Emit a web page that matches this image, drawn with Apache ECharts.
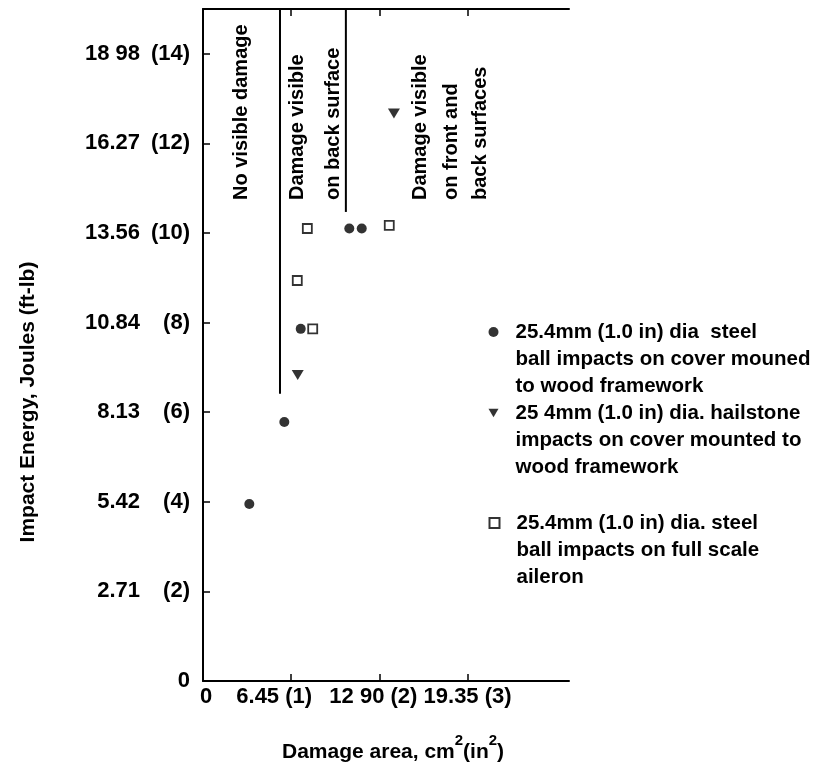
<!DOCTYPE html>
<html>
<head>
<meta charset="utf-8">
<script src="https://cdn.jsdelivr.net/npm/echarts@6/dist/echarts.min.js"></script>
<style>html,body{margin:0;padding:0;background:#fff}#c{width:814px;height:764px}</style>
</head>
<body>
<div id="c"></div>
<script>
// ---- data (x: damage area in in^2, y: impact energy in ft-lb) ----
const steelWoodX = [0.525, 0.922, 1.108, 1.659, 1.800];
const steelWoodY = [3.95, 5.78, 7.86, 10.10, 10.10];
const hailWoodX = [1.074, 2.165];
const hailWoodY = [6.83, 12.67];
const steelAileronX = [1.069, 1.244, 1.183, 2.112];
const steelAileronY = [8.94, 7.86, 10.10, 10.17];
const boundaryX = [0.873, 1.62];
const boundaryLowY = [6.41, 10.47];
const boundaryTopY = 15;

const xTickValues = [0, 1, 2, 3];
const xTickLabels = ['0', '6.45 (1)', '12 90 (2)', '19.35 (3)'];
const yTickValues = [0, 2, 4, 6, 8, 10, 12, 14];
const yJoules = ['', '2.71', '5.42', '8.13', '10.84', '13.56', '16.27', '18 98'];
const yFtlb = ['0', '(2)', '(4)', '(6)', '(8)', '(10)', '(12)', '(14)'];

const seriesNames = ['steel ball, wood framework', 'hailstone, wood framework', 'steel ball, full scale aileron'];
const legendLines = [
  ['25.4mm (1.0 in) dia  steel', 'ball impacts on cover mouned', 'to wood framework'],
  ['25 4mm (1.0 in) dia. hailstone', 'impacts on cover mounted to', 'wood framework'],
  ['25.4mm (1.0 in) dia. steel', 'ball impacts on full scale', 'aileron']
];
const regionLabels = [
  ['No visible damage'],
  ['Damage visible', 'on back surface'],
  ['Damage visible', 'on front and', 'back surfaces']
];
const yTitle = 'Impact Energy, Joules (ft-lb)';
const xTitleParts = ['Damage area, cm', '2', '(in', '2', ')'];

// ---- styles / layout ----
const FONT = '"Liberation Sans", Arial, sans-serif';
const INK = '#000';
const regionPos = [[[241, 200]], [[297, 200], [333, 200]], [[420, 200], [451, 200], [480, 200]]];
const legendIconCenters = [332, 413, 523];
const legendLineH = 27;
const legendIcons = ['circle', 'path://M0,0L12,0L6,10Z', 'rect'];
const xLabelPad = [[0, 0, 0, 6], [0, 34, 0, 0], [0, 12, 0, 0], [0, 0, 0, 0]];

const zip = (xs, ys) => xs.map((x, i) => [x, ys[i]]);

const xRich = {};
xLabelPad.forEach((p, i) => {
  xRich['s' + i] = { fontFamily: FONT, fontWeight: 'bold', fontSize: 22, color: INK, padding: p };
});

const chart = echarts.init(document.getElementById('c'), null, { renderer: 'canvas' });

const tickStyle = { show: true, inside: false, length: -7, lineStyle: { color: INK, width: 1.5 } };

const commonX = {
  type: 'value', min: 0, max: 4.15,
  splitLine: { show: false },
  axisLine: { show: true, onZero: false, lineStyle: { color: INK, width: 2 } },
  axisTick: Object.assign({ customValues: xTickValues }, tickStyle)
};

const graphics = [];
regionLabels.forEach((lines, g) => {
  lines.forEach((t, k) => {
    graphics.push({
      type: 'text', x: regionPos[g][k][0], y: regionPos[g][k][1], rotation: Math.PI / 2,
      style: { text: t, font: 'bold 20px ' + FONT, fill: INK, align: 'left', verticalAlign: 'middle' }
    });
  });
});
graphics.push({
  type: 'text', x: 28, y: 402, rotation: Math.PI / 2,
  style: { text: yTitle, font: 'bold 21px ' + FONT, fill: INK, align: 'center', verticalAlign: 'middle' }
});
graphics.push({
  type: 'text', x: 282, y: 748,
  style: {
    text: '{m|' + xTitleParts[0] + '}{u|' + xTitleParts[1] + '}{m|' + xTitleParts[2] + '}{u|' + xTitleParts[3] + '}{m|' + xTitleParts[4] + '}',
    align: 'left', verticalAlign: 'middle',
    rich: {
      m: { fontFamily: FONT, fontWeight: 'bold', fontSize: 21, fill: INK, lineHeight: 30, verticalAlign: 'bottom' },
      u: { fontFamily: FONT, fontWeight: 'bold', fontSize: 15, fill: INK, lineHeight: 30, verticalAlign: 'top' }
    }
  }
});

const legends = seriesNames.map((name, i) => ({
  data: [{ name: name, icon: legendIcons[i] }],
  orient: 'vertical',
  left: 488.5,
  top: legendIconCenters[i] - 2.5 * legendLineH,
  padding: 0,
  itemWidth: 10, itemHeight: 10,
  selectedMode: false,
  formatter: () => '\n\n' + legendLines[i].join('\n'),
  textStyle: { fontFamily: FONT, fontWeight: 'bold', fontSize: 20.5, color: INK, lineHeight: legendLineH, padding: [0, 0, 0, 12] }
}));

chart.setOption({
  animation: false,
  backgroundColor: '#fff',
  grid: { left: 203, top: 9, right: 245, bottom: 83, containLabel: false },
  xAxis: [
    Object.assign({}, commonX, {
      position: 'bottom',
      axisLabel: {
        show: true, margin: 5, customValues: xTickValues,
        formatter: (v) => { const i = xTickValues.indexOf(v); return i < 0 ? '' : '{s' + i + '|' + xTickLabels[i] + '}'; },
        rich: xRich
      }
    }),
    Object.assign({}, commonX, { position: 'top', axisLabel: { show: false } })
  ],
  yAxis: {
    type: 'value', min: 0, max: 15,
    splitLine: { show: false },
    axisLine: { show: true, onZero: false, lineStyle: { color: INK, width: 2 } },
    axisTick: Object.assign({ customValues: yTickValues }, tickStyle),
    axisLabel: {
      show: true, margin: 13, customValues: yTickValues,
      formatter: (v) => {
        const i = yTickValues.indexOf(v);
        if (i < 0) return '';
        return (yJoules[i] ? '{j|' + yJoules[i] + '}' : '') + '{f|' + yFtlb[i] + '}';
      },
      rich: {
        j: { fontFamily: FONT, fontWeight: 'bold', fontSize: 22, color: INK, width: 60, align: 'right' },
        f: { fontFamily: FONT, fontWeight: 'bold', fontSize: 22, color: INK, width: 50, align: 'right' }
      }
    }
  },
  legend: legends,
  graphic: graphics,
  series: [
    { name: seriesNames[0], type: 'scatter', symbol: 'circle', symbolSize: 10, itemStyle: { color: INK }, data: zip(steelWoodX, steelWoodY), z: 5 },
    { name: seriesNames[1], type: 'scatter', symbol: 'triangle', symbolRotate: 180, symbolSize: [12, 10], itemStyle: { color: INK }, data: zip(hailWoodX, hailWoodY), z: 5 },
    { name: seriesNames[2], type: 'scatter', symbol: 'rect', symbolSize: 9, itemStyle: { color: '#fff', borderColor: INK, borderWidth: 1.8 }, data: zip(steelAileronX, steelAileronY), z: 5 },
    { name: 'boundary1', type: 'line', symbol: 'none', silent: true, lineStyle: { color: INK, width: 2 }, data: [[boundaryX[0], boundaryLowY[0]], [boundaryX[0], boundaryTopY]] },
    { name: 'boundary2', type: 'line', symbol: 'none', silent: true, lineStyle: { color: INK, width: 2 }, data: [[boundaryX[1], boundaryLowY[1]], [boundaryX[1], boundaryTopY]] }
  ]
});
</script>
</body>
</html>
